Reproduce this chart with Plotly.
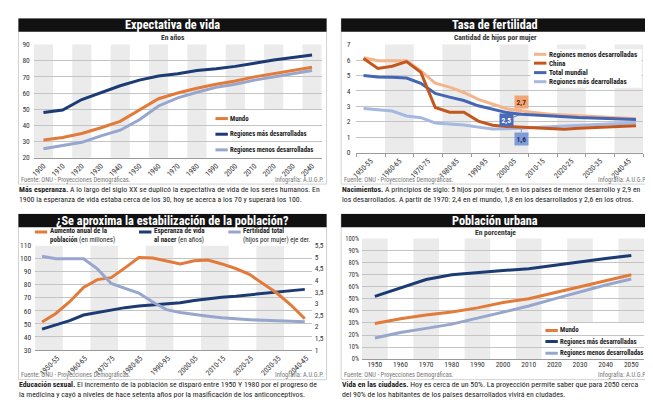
import plotly.graph_objects as go

W, H = 653, 405
FONT = "Liberation Sans Narrow, Roboto Condensed, Arial Narrow, Liberation Sans, sans-serif"

# ---------------- data ----------------
vida_years = [1900, 1910, 1920, 1930, 1940, 1950, 1960, 1970, 1980, 1990, 2000, 2010, 2020, 2030, 2040]
vida_mundo = [31, 32.5, 35, 38.5, 42.5, 49.5, 56.5, 60, 63, 65.5, 67.5, 70, 72, 74, 76]
vida_mas = [48, 49.5, 56, 60.5, 64.5, 68, 70.5, 72, 74, 75, 76.5, 78.5, 80.5, 82, 83.5]
vida_menos = [25.5, 27.5, 29.5, 33.5, 37, 43.5, 52, 57, 60.5, 63.5, 65.5, 68, 70, 72, 74]
vida_names = ["Mundo", "Regiones más desarrolladas", "Regiones menos desarrolladas"]

periods = ["1950-55", "1955-60", "1960-65", "1965-70", "1970-75", "1975-80", "1980-85",
           "1985-90", "1990-95", "1995-00", "2000-05", "2005-10", "2010-15", "2015-20",
           "2020-25", "2025-30", "2030-35", "2035-40", "2040-45", "2045-50"]
period_labels = ["1950-55", "1960-65", "1970-75", "1980-85", "1990-95",
                 "2000-05", "2010-15", "2020-25", "2030-35", "2040-45"]

fert_menos = [6.15, 5.95, 5.95, 5.95, 5.3, 4.5, 4.25, 3.9, 3.45, 3.15, 2.85, 2.7,
              2.6, 2.5, 2.45, 2.4, 2.32, 2.27, 2.22, 2.2]
fert_china = [6.1, 5.45, 5.6, 5.9, 5.2, 2.93, 2.62, 2.62, 2.05, 1.78, 1.7, 1.65,
              1.6, 1.55, 1.52, 1.58, 1.63, 1.67, 1.7, 1.75]
fert_total = [5.0, 4.9, 4.88, 4.83, 4.5, 3.84, 3.6, 3.38, 3.04, 2.8, 2.6, 2.5,
              2.44, 2.38, 2.32, 2.28, 2.25, 2.2, 2.18, 2.15]
fert_mas = [2.86, 2.8, 2.7, 2.38, 2.27, 1.93, 1.86, 1.8, 1.66, 1.54, 1.55, 1.6,
            1.65, 1.7, 1.75, 1.8, 1.83, 1.87, 1.9, 1.95]
fert_names = ["Regiones menos desarrolladas", "China", "Total mundial", "Regiones más dearrolladas"]

pob_aumento = [51.5, 58, 67, 78, 84, 85.5, 93, 101, 100.5, 98, 96, 98.5,
               99, 96, 92.5, 88, 81, 73.5, 64.5, 54]
pob_esperanza = [46, 49.3, 52.5, 56.8, 58.8, 61, 62.5, 63.8, 64.8, 65.5, 66.3, 68,
                 69.3, 70.5, 71.3, 72.3, 73.3, 74.3, 75.5, 76.5]
pob_fertilidad = [5.04, 4.94, 4.94, 4.94, 4.5, 3.87, 3.66, 3.46, 3.07, 2.74, 2.62, 2.53,
                  2.46, 2.39, 2.34, 2.31, 2.28, 2.27, 2.24, 2.22]
pob_names = ["<b>Aumento anual de la<br>población</b> (en millones)",
             "<b>Esperanza de vida<br>al nacer</b> (en años)",
             "<b>Fertilidad total</b><br>(hijos por mujer) eje der."]

urb_years = [1950, 1960, 1970, 1980, 1990, 2000, 2010, 2020, 2030, 2040, 2050]
urb_mundo = [29.5, 33.5, 36.5, 39, 42.5, 47, 50, 55, 60, 65, 70]
urb_mas = [52, 59, 66, 70, 72, 73.5, 75, 78, 81, 83.5, 86]
urb_menos = [17.5, 22, 25.5, 29, 34, 39, 44, 50, 56, 61.5, 66.5]
urb_names = ["Mundo", "Regiones más desarrolladas", "Regiones menos desarrolladas"]

titles = ["Expectativa de vida", "Tasa de fertilidad",
          "¿Se aproxima la estabilización de la población?", "Población urbana"]
subtitles = ["En años", "Cantidad de hijos por mujer", None, "En porcentaje"]
captions = [
    "<b>Más esperanza.</b> A lo largo del siglo XX se duplicó la expectativa de vida de los seres humanos. En<br>1900 la esperanza de vida estaba cerca de los 30, hoy se acerca a los 70 y superará los 100.",
    "<b>Nacimientos.</b> A principios de siglo: 5 hijos por mujer, 6 en los países de menor desarrollo y 2,9 en<br>los desarrollados. A partir de 1970: 2,4 en el mundo, 1,8 en los desarrollados y 2,6 en los otros.",
    "<b>Educación sexual.</b> El incremento de la población se disparó entre 1950 Y 1980 por el progreso de<br>la medicina y cayó a niveles de hace setenta años por la masificación de los anticonceptivos.",
    "<b>Vida en las ciudades.</b> Hoy es cerca de un 50%. La proyección permite saber que para 2050 cerca<br>del 90% de los habitantes de los países desarrollados vivirá en ciudades.",
]
source_text = "Fuente: ONU - Proyecciones Demográficas."
credit_text = "Infografía: A.U.G.P."

# ---------------- styles ----------------
ORANGE = "#e27a3a"
NAVY = "#1b3b72"
LIGHT = "#97a6cc"
PEACH = "#f4b48c"
CHINA = "#c4571e"
TOTAL = "#4566b3"
MASF = "#a5b8e2"
BAND = "#ebebeb"
GRID = "#c4c4c4"
AXIS = "#9a9a9a"
TXT = "#333333"

def X(px):
    return px / W

def Y(py):
    return 1 - py / H

# plot areas (pixels)
P = {
    1: dict(l=21, r=311, t=33.3, b=149),
    2: dict(l=346, r=635, t=33.3, b=144),
    3: dict(l=22.3, r=301, t=239, b=345.7),
    4: dict(l=351.7, r=636, t=231.7, b=355),
}
# panel frames (pixels)
FR = {
    1: dict(l=5.5, r=316, t=6.7, b=176),
    2: dict(l=330.7, r=641.5, t=6.7, b=176),
    3: dict(l=5.5, r=316, t=206.7, b=376),
    4: dict(l=330.7, r=641.5, t=206.7, b=376),
}

def dom(p):
    a = P[p]
    return [X(a["l"]), X(a["r"])], [Y(a["b"]), Y(a["t"])]

def dx(p, px):
    a = P[p]
    return (px - a["l"]) / (a["r"] - a["l"])

def dy(p, py):
    a = P[p]
    return (a["b"] - py) / (a["b"] - a["t"])

fig = go.Figure()

# ---------------- traces ----------------
for ys, c in [(vida_menos, LIGHT), (vida_mundo, ORANGE), (vida_mas, NAVY)]:
    fig.add_trace(go.Scatter(x=vida_years, y=ys, mode="lines", line=dict(color=c, width=3),
                             xaxis="x", yaxis="y", hoverinfo="skip"))

per_x = [int(p[:4]) + 2.5 for p in periods]
for ys, c in [(fert_mas, MASF), (fert_menos, PEACH), (fert_total, TOTAL), (fert_china, CHINA)]:
    fig.add_trace(go.Scatter(x=per_x, y=ys, mode="lines", line=dict(color=c, width=3),
                             xaxis="x2", yaxis="y2", hoverinfo="skip"))

fig.add_trace(go.Scatter(x=per_x, y=pob_fertilidad, mode="lines", line=dict(color=LIGHT, width=3),
                         xaxis="x3", yaxis="y6", hoverinfo="skip"))
fig.add_trace(go.Scatter(x=per_x, y=pob_esperanza, mode="lines", line=dict(color=NAVY, width=3),
                         xaxis="x3", yaxis="y3", hoverinfo="skip"))
fig.add_trace(go.Scatter(x=per_x, y=pob_aumento, mode="lines", line=dict(color=ORANGE, width=3),
                         xaxis="x3", yaxis="y3", hoverinfo="skip"))

for ys, c in [(urb_menos, LIGHT), (urb_mundo, ORANGE), (urb_mas, NAVY)]:
    fig.add_trace(go.Scatter(x=urb_years, y=ys, mode="lines", line=dict(color=c, width=3),
                             xaxis="x4", yaxis="y5", hoverinfo="skip"))

# ---------------- shapes ----------------
shapes = []
ann = []

def band(xref, yref, x0, x1):
    shapes.append(dict(type="rect", xref=xref, yref=yref + " domain", x0=x0, x1=x1, y0=0, y1=1,
                       fillcolor=BAND, line_width=0, layer="below"))

for i, yr in enumerate(vida_years):
    if i % 2 == 0:
        band("x", "y", yr - 5, yr + 5)
for i, lab in enumerate(period_labels):
    s = int(lab[:4])
    if i % 2 == 1:
        band("x2", "y2", s, s + 10)
    if i % 2 == 0:
        band("x3", "y3", s, s + 10)
for i, yr in enumerate(urb_years):
    if i % 2 == 0:
        band("x4", "y5", yr - 5, yr + 5)

# white legend areas
shapes.append(dict(type="rect", xref="x domain", yref="y domain", x0=dx(1, 200), x1=1, y0=0,
                   y1=dy(1, 100), fillcolor="white", line_width=0, layer="below"))
shapes.append(dict(type="rect", xref="x4 domain", yref="y5 domain", x0=dx(4, 533), x1=1, y0=0,
                   y1=dy(4, 318), fillcolor="white", line_width=0, layer="below"))
shapes.append(dict(type="rect", xref="paper", yref="paper", x0=X(521.5), x1=X(633.5),
                   y0=Y(77.5), y1=Y(38), fillcolor="white", line_width=0, layer="above"))

# frames and title bars
for k in range(4):
    f = FR[k + 1]
    shapes.append(dict(type="rect", xref="paper", yref="paper", x0=X(f["l"]), x1=X(f["r"]),
                       y0=Y(f["b"]), y1=Y(f["t"]), line=dict(color="#d2d2d2", width=1),
                       fillcolor="rgba(0,0,0,0)", layer="above"))
    shapes.append(dict(type="rect", xref="paper", yref="paper", x0=X(f["l"]), x1=X(f["r"]),
                       y0=Y(f["t"] + 13.5), y1=Y(f["t"]), line_width=0, fillcolor="#111111",
                       layer="above"))
    cx = (f["l"] + f["r"]) / 2
    ann.append(dict(xref="paper", yref="paper", x=X(cx), y=Y(f["t"] + 6.9), text="<b>%s</b>" % titles[k],
                    showarrow=False, xanchor="center", yanchor="middle",
                    font=dict(family=FONT, size=12.3, color="white")))
    if subtitles[k]:
        ann.append(dict(xref="paper", yref="paper", x=X(cx), y=Y(f["t"] + 19.3),
                        text="<b>%s</b>" % subtitles[k], showarrow=False, xanchor="center",
                        yanchor="middle", font=dict(family=FONT, size=7.5, color=TXT)))
    ann.append(dict(xref="paper", yref="paper", x=X(f["l"] + 1), y=Y(f["b"] - 4.6), text=source_text,
                    showarrow=False, xanchor="left", yanchor="middle",
                    font=dict(family=FONT, size=6.5, color="#777")))
    ann.append(dict(xref="paper", yref="paper", x=X(f["r"] - 1), y=Y(f["b"] - 4.6), text=credit_text,
                    showarrow=False, xanchor="right", yanchor="middle",
                    font=dict(family=FONT, size=6.5, color="#777")))
    ann.append(dict(xref="paper", yref="paper", x=X(f["l"] - 1.5), y=Y(f["b"] + 10.3), text=captions[k],
                    showarrow=False, xanchor="left", yanchor="middle", align="left",
                    font=dict(family=FONT, size=7.8, color="#222")))

# ---------------- legends ----------------
def legend_item(x_key, y_px, color, text, ytext=None, size=7):
    shapes.append(dict(type="line", xref="paper", yref="paper", x0=X(x_key), x1=X(x_key + 12.5),
                       y0=Y(y_px), y1=Y(y_px), line=dict(color=color, width=3), layer="above"))
    ann.append(dict(xref="paper", yref="paper", x=X(x_key + 13), y=Y(ytext if ytext else y_px),
                    text=text, showarrow=False, xanchor="left", yanchor="middle", align="left",
                    font=dict(family=FONT, size=size, color="#222")))

for name, c, yy in zip(vida_names, [ORANGE, NAVY, LIGHT], [109, 125, 141]):
    legend_item(204, yy, c, "<b>%s</b>" % name, size=6.8)
for name, c, yy in zip(fert_names, [PEACH, CHINA, TOTAL, MASF], [43.3, 52.3, 62, 71.3]):
    legend_item(525, yy, c, "<b>%s</b>" % name, size=7.2)
for name, c, yy in zip(urb_names, [ORANGE, NAVY, LIGHT], [325.7, 337, 349]):
    legend_item(536.5, yy, c, "<b>%s</b>" % name, size=6.8)
for name, c, xk in zip(pob_names, [ORANGE, NAVY, LIGHT], [22, 127, 217]):
    legend_item(xk, 225, c, name, ytext=228.8)

# value call-outs (panel 2)
idx = periods.index("2005-10")
def fmt(v):
    return ("%.1f" % v).replace(".", ",")
for series, bg, fc, axp, ayp in [(fert_menos, "#f2a675", "#5b2a0c", 0, -9),
                                 (fert_total, "#4a6bb8", "white", -15, 5.5),
                                 (fert_mas, "#7f9cd8", "#1b2f5e", 0, 10.5)]:
    ann.append(dict(xref="x2", yref="y2", x=per_x[idx], y=series[idx], text="<b>%s</b>" % fmt(series[idx]),
                    showarrow=True, arrowhead=0, arrowwidth=1, arrowcolor=bg, ax=axp, ay=ayp,
                    bgcolor=bg, borderpad=1.5, standoff=0,
                    font=dict(family=FONT, size=7.5, color=fc)))

# ---------------- axes ----------------
tickfont = dict(family=FONT, size=7.5, color=TXT)

def yax(p, rng, dtick, **kw):
    d = dict(domain=dom(p)[1], range=rng, dtick=dtick, tick0=rng[0], showgrid=True, gridcolor=GRID,
             gridwidth=1, zeroline=False, showline=False, ticks="", tickfont=tickfont,
             ticklabelstandoff=3, fixedrange=True)
    d.update(kw)
    return d

def xax(p, rng, vals, texts, angle, **kw):
    d = dict(domain=dom(p)[0], range=rng, tickmode="array", tickvals=vals, ticktext=texts,
             tickangle=angle, showgrid=False, zeroline=False, showline=True, linecolor=AXIS,
             linewidth=1, ticks="", tickfont=tickfont, fixedrange=True)
    d.update(kw)
    return d

minor_b = dict(ticks="outside", ticklen=3, tickcolor=AXIS, tick0=1950, dtick=10, showgrid=False)

fig.update_layout(
    width=W, height=H, margin=dict(l=0, r=0, t=0, b=0),
    paper_bgcolor="white", plot_bgcolor="white", showlegend=False,
    separators=",.",
    xaxis=xax(1, [1895, 2045], vida_years, [str(v) for v in vida_years], -45, anchor="y"),
    yaxis=yax(1, [20, 90], 10, anchor="x"),
    xaxis2=xax(2, [1950, 2050], [int(l[:4]) + 5 for l in period_labels], period_labels, -45,
               anchor="y2", minor=minor_b),
    yaxis2=yax(2, [0, 7], 1, anchor="x2", ticklabelstandoff=5),
    xaxis3=xax(3, [1950, 2050], [int(l[:4]) + 8 for l in period_labels], period_labels, -45,
               anchor="y3"),
    yaxis3=yax(3, [30, 110], 10, anchor="x3"),
    yaxis6=dict(domain=dom(3)[1], range=[1, 5.5], dtick=0.5, tick0=1, overlaying="y3", side="right",
                anchor="x3", showgrid=False, zeroline=False, showline=False, ticks="",
                tickfont=tickfont, ticklabelstandoff=2, fixedrange=True),
    xaxis4=xax(4, [1945, 2055], urb_years, [str(v) for v in urb_years], 0, anchor="y5",
               tickfont=dict(family=FONT, size=7.5, color=TXT), ticklabelstandoff=-2),
    yaxis5=yax(4, [0, 100], 10, anchor="x4", ticksuffix="%", ticklabelstandoff=2,
               tickfont=dict(family=FONT, size=6.5, color=TXT)),
    shapes=shapes,
    annotations=ann,
)

fig.write_html("out.html")
